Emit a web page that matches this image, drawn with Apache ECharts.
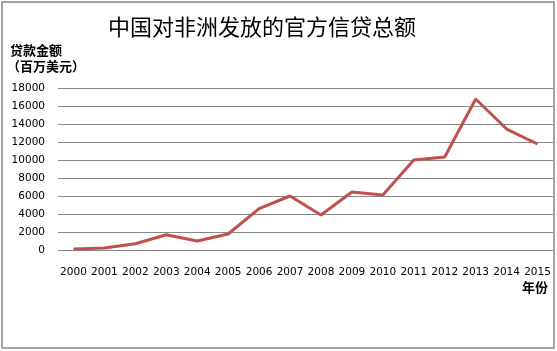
<!DOCTYPE html>
<html>
<head>
<meta charset="utf-8">
<script src="https://cdn.jsdelivr.net/npm/echarts@6/dist/echarts.min.js"></script>
<style>
    html, body { margin: 0; padding: 0; background: #fff; }
    #main { width: 557px; height: 351px; }
</style>
</head>
<body>
<div id="main"></div>
<script>
// 年份与贷款金额（百万美元）
let years = ['2000', '2001', '2002', '2003', '2004', '2005', '2006', '2007',
    '2008', '2009', '2010', '2011', '2012', '2013', '2014', '2015'];
let loans = [110, 220, 700, 1700, 1000, 1780, 4590, 6000,
    3890, 6440, 6110, 10000, 10330, 16780, 13440, 11780];
let yTicks = [0, 2000, 4000, 6000, 8000, 10000, 12000, 14000, 16000, 18000];

let myChart = echarts.init(document.getElementById('main'), null, { renderer: 'canvas' });

let option = {
    backgroundColor: '#fff',
    animation: false,
    title: [
        {
            text: '中国对非洲发放的官方信贷总额',
            left: 103,
            top: 11,
            textStyle: {
                fontFamily: 'Noto Sans CJK SC',
                fontSize: 22,
                fontWeight: 'normal',
                color: '#000'
            }
        },
        {
            text: '贷款金额',
            left: 5,
            top: 39,
            textStyle: { fontFamily: 'Noto Sans CJK SC', fontSize: 13, fontWeight: 'bold', color: '#000' }
        },
        {
            text: '（百万美元）',
            left: 2,
            top: 55,
            textStyle: { fontFamily: 'Noto Sans CJK SC', fontSize: 13, fontWeight: 'bold', color: '#000' }
        },
        {
            text: '年份',
            left: 517,
            top: 276,
            textStyle: { fontFamily: 'Noto Sans CJK SC', fontSize: 13, fontWeight: 'bold', color: '#000' }
        }
    ],
    // 外边框
    graphic: [{
        type: 'rect',
        shape: { x: 2, y: 2, width: 552, height: 346 },
        style: { fill: 'none', stroke: '#888', lineWidth: 1.5 }
    }],
    grid: {
        left: 58,
        right: 4,
        top: 88,
        bottom: 101,
        containLabel: false
    },
    xAxis: {
        type: 'category',
        boundaryGap: true,
        data: years,
        axisLine: { show: false },
        axisTick: { show: false },
        axisLabel: {
            interval: 0,
            margin: 17,
            fontFamily: 'DejaVu Sans',
            fontSize: 10.5,
            color: '#000'
        }
    },
    yAxis: {
        type: 'value',
        min: 0,
        max: 18000,
        interval: 2000,
        axisLine: { show: false },
        axisTick: { show: false },
        axisLabel: {
            margin: 13,
            fontFamily: 'DejaVu Sans',
            fontSize: 10.5,
            color: '#000',
            formatter: function(value) {
                return yTicks.indexOf(value) >= 0 ? String(value) : '';
            }
        },
        splitLine: {
            show: true,
            lineStyle: { color: '#888', width: 1 }
        }
    },
    series: [
        {
            name: '贷款金额',
            type: 'line',
            data: loans,
            symbol: 'none',
            smooth: false,
            lineStyle: { color: '#c0504d', width: 3 }
        }
    ]
};

myChart.setOption(option);
</script>
</body>
</html>
